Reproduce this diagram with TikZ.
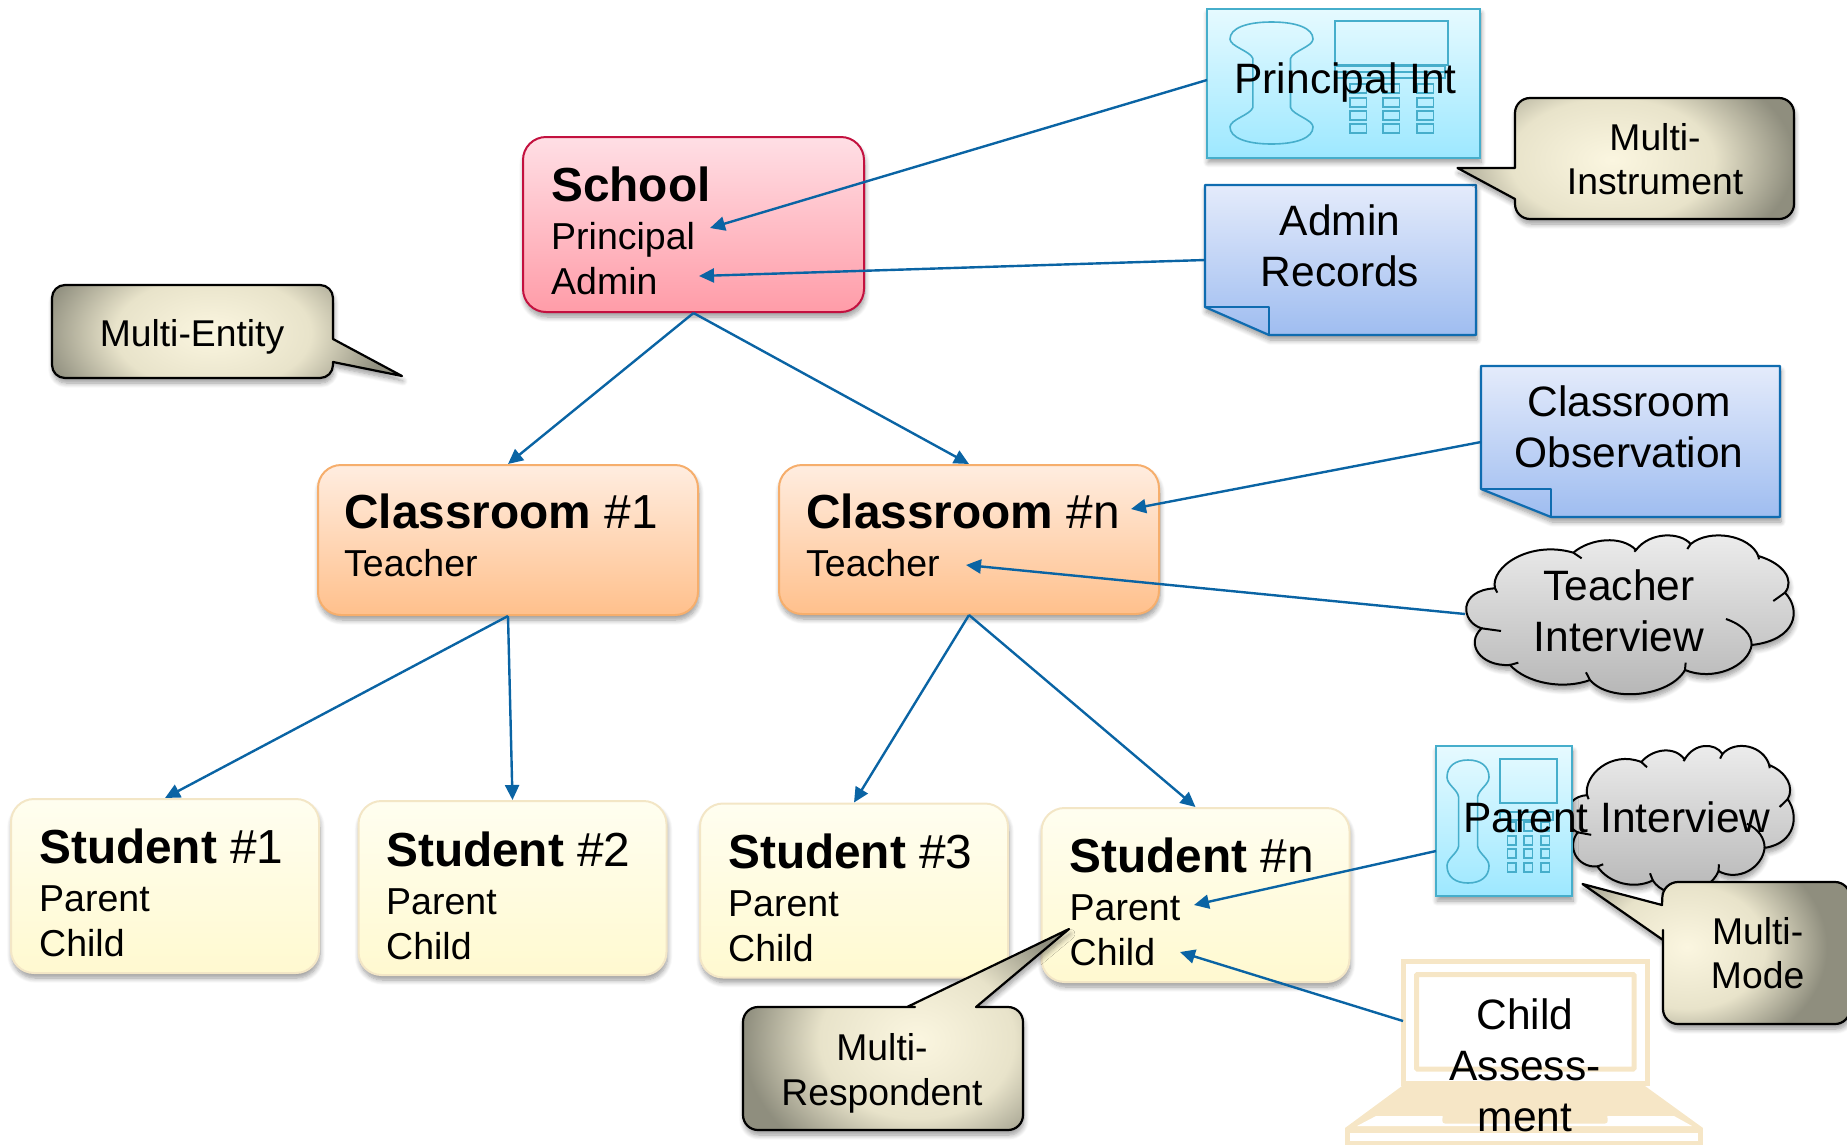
\documentclass[tikz,border=0pt]{standalone}
\usepackage{fontspec}
\setmainfont{Liberation Sans}
\usetikzlibrary{arrows.meta,shadows.blur}
\definecolor{linkblue}{HTML}{0A64A4}
\definecolor{iconline}{HTML}{46AECB}
\definecolor{lapcol}{HTML}{F6E6C6}
\definecolor{glowA}{HTML}{FBF6E0}
\definecolor{glowB}{HTML}{E8E3CA}
\definecolor{glowC}{HTML}{8F8E7E}
\pgfdeclareradialshading{calloutglow}{\pgfpoint{0bp}{0bp}}{color(0bp)=(glowA);color(14bp)=(glowB);color(25bp)=(glowC);color(50bp)=(glowC)}
\newcommand\ftitle{\fontsize{47.8}{47}\selectfont}
\newcommand\fsub{\fontsize{37.5}{45}\selectfont}
\newcommand\fbig{\fontsize{42.5}{51}\selectfont}
\newcommand\fnote{\fontsize{37.3}{44.5}\selectfont}
\newcommand\handsetpic[4]{%
  \begin{scope}[shift={(#1,#2)},x=#3pt,y=-#4pt]
  \draw[iconline,line width=1.6pt] (.276,.30) .. controls (.25,.24) and (0,.20) .. (0,.14)
   .. controls (0,.05) and (.2,0) .. (.5,0) .. controls (.8,0) and (1,.05) .. (1,.14)
   .. controls (1,.2) and (.75,.24) .. (.729,.30) -- (.729,.70)
   .. controls (.75,.76) and (1,.8) .. (1,.86) .. controls (1,.95) and (.8,1) .. (.5,1)
   .. controls (.2,1) and (0,.95) .. (0,.86) .. controls (0,.8) and (.25,.76) .. (.276,.70) -- cycle;
  \end{scope}}
\newcommand\cloudpic[4]{%
  \begin{scope}[shift={(#1,#2)},x=#3pt,y=-#4pt]
  \path[softshadow,draw=black,line width=2pt,top color=cloudtop,bottom color=cloudbot]
   (165,265) .. controls (150,200) and (270,120) .. (400,158)
   .. controls (450,115) and (545,105) .. (588,150)
   .. controls (630,95) and (720,95) .. (752,132)
   .. controls (810,85) and (930,105) .. (955,168)
   .. controls (1030,190) and (1065,240) .. (1035,278)
   .. controls (1085,330) and (1070,420) .. (935,435)
   .. controls (925,500) and (820,545) .. (735,510)
   .. controls (690,590) and (510,610) .. (450,540)
   .. controls (370,570) and (260,550) .. (210,495)
   .. controls (120,500) and (75,430) .. (125,385)
   .. controls (60,365) and (55,270) .. (165,265) -- cycle;
  \draw[black,line width=2pt] (165,265) -- (172,278) (400,158) -- (425,175) (588,150) -- (583,155)
   (752,132) -- (742,147) (955,168) -- (957,178) (1035,278) -- (1000,303)
   (858,357) .. controls (910,375) and (935,405) .. (935,435)
   (735,510) -- (737,488) (450,540) -- (438,517) (210,495) -- (235,488) (125,385) -- (183,393);
  \end{scope}}
\newcommand\calloutpic[5]{% path, glow x, glow y, half width, half height
  \path[softshadow,fill=glowC] #1;
  \begin{scope}
  \clip #1;
  \shade[shading=calloutglow] ({#2-#4},{#3-#5}) rectangle ({#2+#4},{#3+#5});
  \end{scope}
  \draw[black,line width=2.2pt,line join=round] #1;}
\definecolor{cloudtop}{HTML}{EEEEEE}
\definecolor{cloudbot}{HTML}{B4B4B4}
\tikzset{
  softshadow/.style={blur shadow={shadow xshift=1pt,shadow yshift=-5pt,shadow blur radius=5pt,shadow blur steps=8,shadow opacity=40}},
  entity/.style={rectangle,rounded corners=23pt,line width=2pt,softshadow,inner sep=0pt},
  schoolbox/.style={entity,draw=HTMLschool,top color=schoolA,bottom color=schoolB},
  roombox/.style={entity,draw=roomD,top color=roomA,bottom color=roomB},
  pupilbox/.style={entity,draw=pupilD,top color=pupilA,bottom color=pupilB},
  phonebox/.style={rectangle,inner sep=0pt,draw=phoneD,line width=2pt,top color=phoneA,bottom color=phoneB,softshadow},
  docshape/.style={draw=docD,line width=2.2pt,top color=docA,bottom color=docB,softshadow,line join=round},
  boxtext/.style={anchor=base west,inner sep=0pt,align=left,font=\fsub},
  midtext/.style={anchor=base,inner sep=0pt,align=center,font=\fbig},
  notetext/.style={anchor=base,inner sep=0pt,align=center,font=\fnote},
  link/.style={draw=linkblue,line width=2.4pt,-{Triangle[length=15pt,width=14pt]}},
  iconstroke/.style={draw=iconline,line width=1.6pt},
  lapline/.style={draw=lapcol,line width=5pt}
}
\definecolor{HTMLschool}{HTML}{C3113F}
\definecolor{schoolA}{HTML}{FFDFE5}
\definecolor{schoolB}{HTML}{FF9CA8}
\definecolor{roomD}{HTML}{F6AE6C}
\definecolor{roomA}{HTML}{FFEDE0}
\definecolor{roomB}{HTML}{FFC08C}
\definecolor{pupilD}{HTML}{F3E6C6}
\definecolor{pupilA}{HTML}{FFFEF0}
\definecolor{pupilB}{HTML}{FFF9D0}
\definecolor{phoneD}{HTML}{46AECB}
\definecolor{phoneA}{HTML}{E6FAFF}
\definecolor{phoneB}{HTML}{9DE8FF}
\definecolor{docD}{HTML}{0F6CB0}
\definecolor{docA}{HTML}{E4EBFB}
\definecolor{docB}{HTML}{9FBDF0}
\begin{document}
\begin{tikzpicture}[x=1pt,y=-1pt]
\useasboundingbox (0,0) rectangle (1847,1144);
% entity boxes
\node[schoolbox,minimum width=341pt,minimum height=175pt] (school) at (693.5,224.5) {};
\node[roombox,minimum width=380pt,minimum height=150pt] (room1) at (508,540) {};
\node[roombox,minimum width=380pt,minimum height=149pt] (roomn) at (969,539.5) {};
\node[pupilbox,minimum width=308pt,minimum height=174pt] (pupil1) at (165,886) {};
\node[pupilbox,minimum width=308pt,minimum height=174pt] (pupil2) at (512.5,888) {};
\node[pupilbox,minimum width=308pt,minimum height=174pt] (pupil3) at (854,890.5) {};
\node[pupilbox,minimum width=308pt,minimum height=174pt] (pupiln) at (1195.5,895) {};
\node[boxtext] (schoolT) at (551,294) {{\ftitle\bfseries School}\\[3pt]Principal\\Admin};
\node[boxtext] (room1T) at (344,576.5) {{\ftitle\textbf{Classroom} \#1}\\[3pt]Teacher};
\node[boxtext] (roomnT) at (806,576.5) {{\ftitle\textbf{Classroom} \#n}\\[3pt]Teacher};
\node[boxtext] (pupil1T) at (39,956) {{\ftitle\textbf{Student} \#1}\\[3pt]Parent\\Child};
\node[boxtext] (pupil2T) at (386,959) {{\ftitle\textbf{Student} \#2}\\[3pt]Parent\\Child};
\node[boxtext] (pupil3T) at (728,961) {{\ftitle\textbf{Student} \#3}\\[3pt]Parent\\Child};
\node[boxtext] (pupilnT) at (1069.5,965) {{\ftitle\textbf{Student} \#n}\\[3pt]Parent\\Child};
% principal phone
\node[phonebox,minimum width=273pt,minimum height=149pt] (phoneA) at (1343.5,83) {};
\handsetpic{1230}{22}{83}{122}
\draw[iconstroke] (1335,21) rectangle (1448,65) (1335,66) rectangle (1445,78) (1335,72) -- (1445,72);
\foreach \kx in {1350,1383,1417}\foreach \ky in {84,98,111,124}
  \draw[iconstroke] (\kx,\ky) rectangle ++(16.5,9);
\coordinate (phoneAW) at (1207,80);
\node[midtext] (phoneAT) at (1345.5,93) {Principal Int};
% admin records
\path[docshape] (1205,185) -- (1476,185) -- (1476,335) -- (1269,335) -- (1205,307) -- cycle;
\draw[draw=docD,line width=2.2pt,line join=round] (1205,307) -- (1269,307) -- (1269,335);
\coordinate (adminW) at (1205,260);
\node[midtext] (adminT) at (1340,286) {Admin\\Records};
% classroom observation
\path[docshape] (1481,366) -- (1780,366) -- (1780,517) -- (1551,517) -- (1481,489) -- cycle;
\draw[draw=docD,line width=2.2pt,line join=round] (1481,489) -- (1551,489) -- (1551,517);
\coordinate (obsW) at (1481,442);
\node[midtext] (obsT) at (1629,467) {Classroom\\Observation};
% teacher interview
\cloudpic{1440}{500}{0.3333}{0.3333}
\coordinate (teachW) at (1465,614);
\node[midtext] (teachT) at (1619,651) {Teacher\\Interview};
% parent interview
\cloudpic{1549}{713}{0.2306}{0.31}
\node[phonebox,minimum width=136pt,minimum height=150pt] (phoneB) at (1504,821) {};
\handsetpic{1447}{760}{42}{123}
\draw[iconstroke] (1500,759) rectangle (1557,803) (1500,812) rectangle (1553,820);
\foreach \kx in {1507.5,1524,1541}\foreach \ky in {822,836,849,863}
  \draw[iconstroke] (\kx,\ky) rectangle ++(8.5,9);
\coordinate (phoneBW) at (1436,851);
\node[midtext] (phoneBT) at (1617,832) {Parent Interview};
% laptop
\draw[lapline] (1403,961.5) rectangle (1647,1083);
\draw[lapline,rounded corners=1pt] (1416.5,974.5) rectangle (1634,1069);
\fill[lapcol] (1402,1086) -- (1645,1086) -- (1703,1128) -- (1345,1128) -- cycle;
\fill[white] (1376,1116) -- (1674,1116) -- (1692,1126) -- (1357,1126) -- cycle;
\fill[lapcol,rounded corners=3pt] (1443,1113) -- (1607,1113) -- (1608,1123.5) -- (1442,1123.5) -- cycle;
\draw[draw=lapcol,line width=5pt] (1347.5,1130.5) rectangle (1700.5,1143);
\coordinate (lapW) at (1403,1021);
\node[midtext] (lapT) at (1525,1131) {Child\\Assess-\\ment};
% callouts
\calloutpic{(333,339) -- (333,298) .. controls (333,290.8) and (327.2,285) .. (320,285) -- (65,285) .. controls (57.8,285) and (52,290.8) .. (52,298) -- (52,365) .. controls (52,372.2) and (57.8,378) .. (65,378) -- (320,378) .. controls (327.2,378) and (333,372.2) .. (333,365) -- (333,362) -- (402,376) -- cycle}{213}{333}{175}{100}
\node[notetext] (noteE) at (192,346) {Multi-Entity};
\calloutpic{(1515,168) -- (1515,113) .. controls (1515,104.7) and (1521.7,98) .. (1530,98) -- (1779,98) .. controls (1787.3,98) and (1794,104.7) .. (1794,113) -- (1794,204) .. controls (1794,212.3) and (1787.3,219) .. (1779,219) -- (1530,219) .. controls (1521.7,219) and (1515,212.3) .. (1515,204) -- (1515,199) -- (1457.5,168) -- cycle}{1612}{160}{182}{110}
\node[notetext] (noteI) at (1655,194.5) {Multi-\\Instrument};
\calloutpic{(1662,905) [rounded corners=15pt] -- (1663,882) -- (1850,882) -- (1850,1024) -- (1663,1024) -- (1663,945) [sharp corners] -- (1663,940) -- (1582.5,884) -- cycle}{1687}{947}{140}{110}
\node[notetext] (noteM) at (1757.6,988.5) {Multi-\\Mode};
\calloutpic{(976,1007) [rounded corners=15pt] -- (1023,1007) -- (1023,1130) -- (743,1130) -- (743,1007) -- (900,1007) [sharp corners] -- (907,1007) -- (1069,929) -- cycle}{917}{1040}{174}{140}
\node[notetext] (noteR) at (882,1105) {Multi-\\Respondent};
% connectors
\coordinate (tipPrincipal) at (710,228);
\coordinate (tipAdmin) at (699,276);
\coordinate (tipObs) at (1131,509);
\coordinate (tipTeach) at (966,565);
\coordinate (tipParent) at (1194,905);
\coordinate (tipChild) at (1180,952);
\draw[link] (school.south) -- (room1.north);
\draw[link] (school.south) -- (roomn.north);
\draw[link] (room1.south) -- (pupil1.north);
\draw[link] (room1.south) -- (pupil2.north);
\draw[link] (roomn.south) -- (pupil3.north);
\draw[link] (roomn.south) -- (pupiln.north);
\draw[link] (phoneAW) -- (tipPrincipal);
\draw[link] (adminW) -- (tipAdmin);
\draw[link] (obsW) -- (tipObs);
\draw[link] (teachW) -- (tipTeach);
\draw[link] (phoneBW) -- (tipParent);
\draw[link] (lapW) -- (tipChild);
\end{tikzpicture}
\end{document}
